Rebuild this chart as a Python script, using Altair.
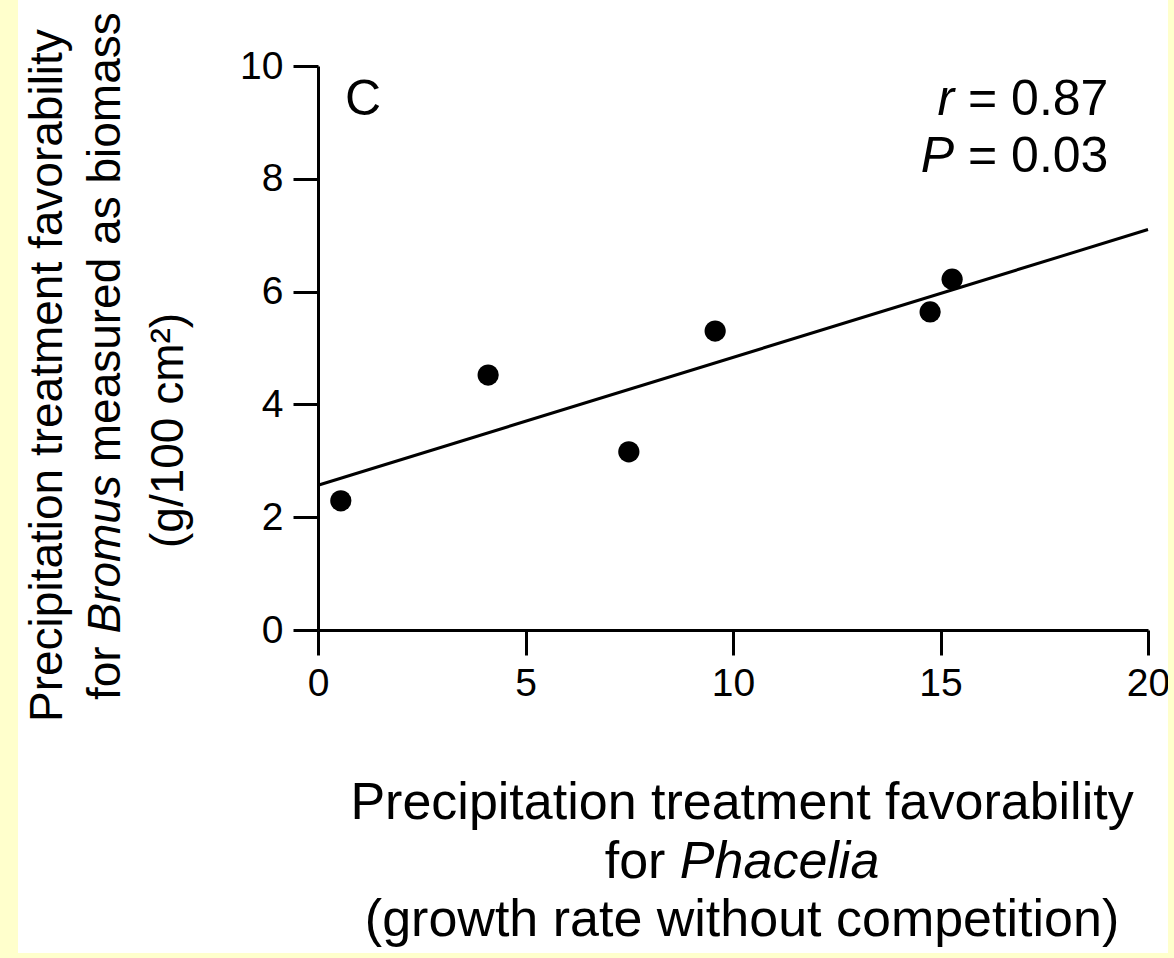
import altair as alt
import pandas as pd

# ---- data ----
x_vals = [0.55, 4.10, 7.49, 9.57, 14.75, 15.28]
y_vals = [2.29, 4.52, 3.16, 5.30, 5.64, 6.22]
x_ticks = [0, 5, 10, 15, 20]
y_ticks = [0, 2, 4, 6, 8, 10]
x_domain = [0, 20]
y_domain = [0, 10]

panel_letter = "C"
stat_r = ["r", "= 0.87"]
stat_p = ["P", "= 0.03"]
# each segment: (text, italic, gap in spaces before it)
x_title = [
    [("Precipitation treatment favorability", False, 0)],
    [("for", False, 0), ("Phacelia", True, 1)],
    [("(growth rate without competition)", False, 0)],
]
y_title = [
    [("Precipitation treatment favorability", False, 0)],
    [("for", False, 0), ("Bromus", True, 1), ("measured as biomass", False, 1)],
    [("(g/100 cm\u00b2)", False, 0)],
]

FONT = "Liberation Sans"
W, H = 830, 564
PAD = {"left": 318, "top": 66, "right": 26, "bottom": 328}
YELLOW = "#FFFFCC"

# Arial / Liberation Sans advance widths (per 1000 em)
AFM = {' ': 278, 'f': 278, 'o': 556, 'r': 333, 'B': 667, 'm': 833, 'u': 556,
       's': 500, 'P': 667, 'h': 556, 'a': 556, 'c': 500, 'e': 556, 'l': 222,
       'i': 222, 'd': 556, 'b': 556, 'n': 556, 't': 278, 'p': 556, 'v': 500,
       'y': 500, 'g': 556, 'w': 722, '(': 333, ')': 333, '/': 278, '1': 556,
       '0': 556, '\u00b2': 333, 'C': 722, '=': 584, '.': 278, '8': 556, '7': 556,
       '3': 556}


def tw(s, size):
    return sum(AFM.get(ch, 556) for ch in s) * size / 1000.0


one = alt.Data(values=[{}])


def txt(s, x, y, size, italic=False, align="left", angle=0):
    return alt.Chart(one).mark_text(
        text=s, font=FONT, fontSize=size, fontStyle="italic" if italic else "normal",
        align=align, baseline="alphabetic", angle=angle, color="black"
    ).encode(x=alt.value(x), y=alt.value(y))


def strip(x1, x2, y1, y2):
    return alt.Chart(one).mark_rect(color=YELLOW).encode(
        x=alt.value(x1), x2=alt.value(x2), y=alt.value(y1), y2=alt.value(y2))


df = pd.DataFrame({"x": x_vals, "y": y_vals})
base = alt.Chart(df)

xs = alt.X("x:Q", scale=alt.Scale(domain=x_domain, nice=False, zero=False),
           axis=alt.Axis(values=x_ticks, title=None, format="d", labelFlush=False,
                         labelPadding=9))
ys = alt.Y("y:Q", scale=alt.Scale(domain=y_domain, nice=False, zero=False),
           axis=alt.Axis(values=y_ticks, title=None, format="d", labelFlush=False,
                         labelPadding=10))

points = base.mark_circle(size=450, color="black", opacity=1).encode(x=xs, y=ys)
fit = base.transform_regression("x", "y", extent=x_domain).mark_line(
    color="black", strokeWidth=3).encode(x=xs, y=ys)

layers = [fit, points]

# panel letter & statistics
ANN = 50
layers.append(txt(panel_letter, 27, 49, ANN))
eq_x = 650
layers.append(txt(stat_r[0], eq_x - tw(" ", ANN), 49, ANN, italic=True, align="right"))
layers.append(txt(stat_r[1], eq_x, 49, ANN))
layers.append(txt(stat_p[0], eq_x - tw(" ", ANN), 106, ANN, italic=True, align="right"))
layers.append(txt(stat_p[1], eq_x, 106, ANN))

# x-axis title (centered lines, mixed styles)
XT = 52
x_center = 424
x_baselines = [753, 812, 870]
for line, yb in zip(x_title, x_baselines):
    total = sum(tw(s, XT) + g * tw(" ", XT) for s, _, g in line)
    cur = x_center - total / 2
    for s, it, g in line:
        cur += g * tw(" ", XT)
        layers.append(txt(s, cur, yb, XT, italic=it))
        cur += tw(s, XT)

# y-axis title (rotated, reading upward)
YT = 46
y_lines_x = [-256, -198, -135]
y_starts = [656, 634, 482]
for line, xb, y0 in zip(y_title, y_lines_x, y_starts):
    cur = y0
    for s, it, g in line:
        cur -= g * tw(" ", YT)
        layers.append(txt(s, xb, cur, YT, italic=it, angle=270))
        cur -= tw(s, YT)

# pale-yellow frame strips (left, right, bottom)
layers.append(strip(-PAD["left"], -PAD["left"] + 18, -PAD["top"], H + PAD["bottom"]))
layers.append(strip(W + 20, W + PAD["right"], -PAD["top"], H + PAD["bottom"]))
layers.append(strip(-PAD["left"], W + PAD["right"], H + 323, H + PAD["bottom"]))

chart = alt.layer(*layers).properties(
    width=W, height=H, padding=PAD,
    autosize=alt.AutoSizeParams(type="none"), background="white"
).configure_view(stroke=None).configure_axis(
    grid=False, domainColor="black", domainWidth=3, tickColor="black", tickWidth=3,
    tickSize=25, labelFont=FONT, labelFontSize=39, labelColor="black"
)

chart.save("out.html", embed_options={"renderer": "svg", "actions": False})
